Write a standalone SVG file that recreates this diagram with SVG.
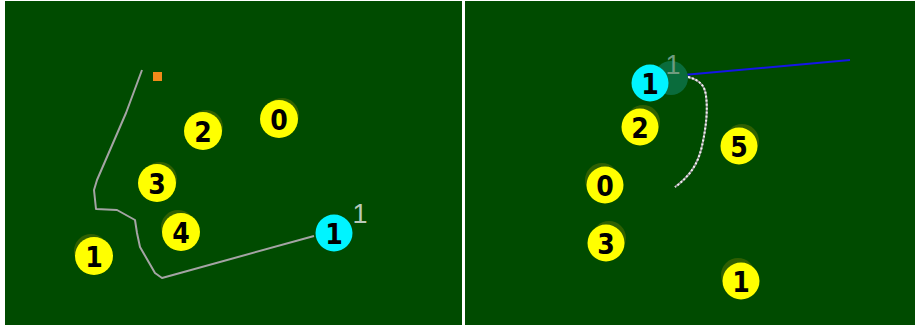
<svg xmlns="http://www.w3.org/2000/svg" width="915" height="326" viewBox="0 0 915 326">
<style>
.panel{fill:#004b00}
.shadow{fill:#2f5f02}
.ball{fill:#ffff00}
.me{fill:#00f4ff}
.num{font-family:"DejaVu Sans Condensed","DejaVu Sans","Liberation Sans",sans-serif;font-stretch:condensed;font-weight:bold;font-size:28px;fill:#000;text-anchor:middle}
.lbl{font-family:"Liberation Sans",Arial,sans-serif;font-size:27px;text-anchor:middle}
.path{fill:none;stroke:#a4a4a4;stroke-width:2;stroke-linejoin:round}
</style>
<rect x="0" y="0" width="915" height="326" fill="#ffffff"/>
<rect class="panel" x="5" y="1" width="457" height="324"/>
<rect class="panel" x="465" y="1" width="450" height="324"/>

<g id="connectors">
  <polyline class="path" points="142,70 126,113 110,150 97,180 94,190 96,209 117,210 135,220 137,233 140,247 155,273 162,278 314,236"/>
  <line x1="672" y1="76" x2="850" y2="60" stroke="#1515e6" stroke-width="2"/>
  <path d="M672,77 L688,77 C700,80 705,86 706,96 C708,110 706,128 702,146 C698,164 690,176 675,187" fill="none" stroke="#8a8a8a" stroke-width="2"/>
  <path d="M672,77 L688,77 C700,80 705,86 706,96 C708,110 706,128 702,146 C698,164 690,176 675,187" fill="none" stroke="#f0f0f0" stroke-width="2" stroke-dasharray="2 2"/>
</g>

<g id="marker-orange"><rect x="153" y="72" width="9" height="9" fill="#f08a1a"/></g>

<g id="L-node-0"><circle class="shadow" cx="282" cy="115" r="17"/><circle class="ball" cx="279" cy="119" r="19"/><text class="num" x="279" y="130">0</text></g>
<g id="L-node-2"><circle class="shadow" cx="206" cy="127" r="17"/><circle class="ball" cx="203" cy="131" r="19"/><text class="num" x="203" y="142">2</text></g>
<g id="L-node-3"><circle class="shadow" cx="160" cy="179" r="17"/><circle class="ball" cx="157" cy="183" r="19"/><text class="num" x="157" y="194">3</text></g>
<g id="L-node-4"><circle class="shadow" cx="178" cy="227" r="17"/><circle class="ball" cx="181" cy="232" r="19"/><text class="num" x="181" y="243">4</text></g>
<g id="L-node-1"><circle class="shadow" cx="91" cy="251" r="17"/><circle class="ball" cx="94" cy="256" r="19"/><text class="num" x="94" y="267">1</text></g>
<g id="L-player-1"><circle class="me" cx="334" cy="233" r="18.5"/><text class="num" x="334" y="244">1</text><text class="lbl" x="360" y="223" fill="#b9c9b9">1</text></g>

<g id="R-player-1"><circle cx="671" cy="78" r="17" fill="#0a6c3c"/><circle class="me" cx="650" cy="83" r="18.5"/><text class="num" x="650" y="94">1</text><text class="lbl" x="673" y="74" fill="#6f9c80">1</text></g>
<g id="R-node-2"><circle class="shadow" cx="643" cy="122" r="17"/><circle class="ball" cx="640" cy="127" r="18.5"/><text class="num" x="640" y="138">2</text></g>
<g id="R-node-5"><circle class="shadow" cx="742" cy="141" r="17"/><circle class="ball" cx="739" cy="146" r="18.5"/><text class="num" x="739" y="157">5</text></g>
<g id="R-node-0"><circle class="shadow" cx="602" cy="180" r="17"/><circle class="ball" cx="605" cy="185" r="18.5"/><text class="num" x="605" y="196">0</text></g>
<g id="R-node-3"><circle class="shadow" cx="609" cy="238" r="17"/><circle class="ball" cx="606" cy="243" r="18.5"/><text class="num" x="606" y="254">3</text></g>
<g id="R-node-1"><circle class="shadow" cx="738" cy="275" r="17"/><circle class="ball" cx="741" cy="281" r="18.5"/><text class="num" x="741" y="292">1</text></g>
</svg>
